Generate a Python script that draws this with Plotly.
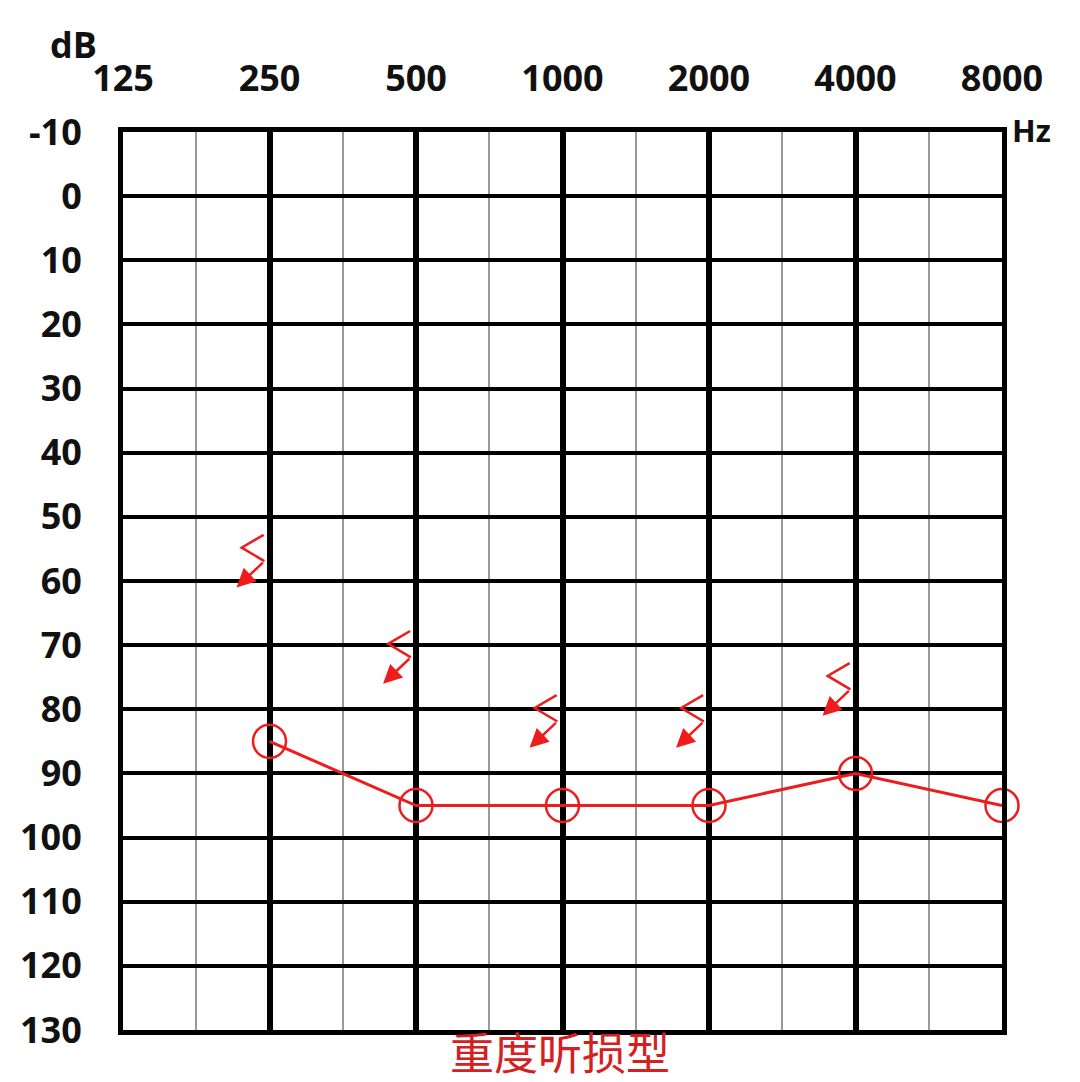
import plotly.graph_objects as go

# audiogram data
freq_labels = ["125", "250", "500", "1000", "2000", "4000", "8000"]
db_ticks = [-10, 0, 10, 20, 30, 40, 50, 60, 70, 80, 90, 100, 110, 120, 130]
air_freqs = ["250", "500", "1000", "2000", "4000", "8000"]
air_db = [85, 95, 95, 95, 90, 95]
bone_freqs = ["250", "500", "1000", "2000", "4000"]
bone_db = [55, 70, 80, 80, 75]

RED = "#ee1c1c"
FONT = "Open Sans"


def octave(f):
    # position on the axis: octaves above 125 Hz
    return freq_labels.index(f)


fig = go.Figure()

# air conduction line with open circles
fig.add_trace(go.Scatter(
    x=[octave(f) for f in air_freqs], y=air_db,
    mode="lines+markers",
    line=dict(color=RED, width=3),
    marker=dict(symbol="circle-open", size=33, color=RED, line=dict(width=2.5, color=RED)),
    cliponaxis=False, hoverinfo="skip",
))

# bone conduction "no response" squiggles: zigzag + arrow
zig_dx = [-0.04, -0.19, -0.035]
zig_dy = [-2.2, -0.2, 1.9]
xs, ys = [], []
for f, db in zip(bone_freqs, bone_db):
    x0 = octave(f)
    xs += [x0 + d for d in zig_dx] + [None]
    ys += [db + d for d in zig_dy] + [None]
    fig.add_annotation(
        x=x0 - 0.225, y=db + 6.0, ax=x0 + zig_dx[-1], ay=db + zig_dy[-1],
        xref="x", yref="y", axref="x", ayref="y",
        showarrow=True, arrowhead=2, arrowsize=1.5, arrowwidth=2.5,
        arrowcolor=RED, text="",
    )
fig.add_trace(go.Scatter(x=xs, y=ys, mode="lines", line=dict(color=RED, width=2.5),
                         hoverinfo="skip"))

fig.update_xaxes(
    range=[0, 6], side="top",
    tickmode="array", tickvals=list(range(7)), ticktext=freq_labels,
    tickfont=dict(family=FONT, size=36, color="#111", weight="bold"),
    ticks="", ticklabelstandoff=22,
    showgrid=True, gridcolor="black", gridwidth=5.5,
    minor=dict(dtick=0.5, tick0=0, showgrid=True, gridcolor="#999999", gridwidth=2),
    showline=True, linecolor="black", linewidth=5, mirror=True,
    zeroline=False, fixedrange=True,
)
fig.update_yaxes(
    range=[130, -10],
    tickmode="array", tickvals=db_ticks, ticktext=[str(v) for v in db_ticks],
    tickfont=dict(family=FONT, size=36, color="#111", weight="bold"),
    ticks="", ticklabelstandoff=29,
    showgrid=True, gridcolor="black", gridwidth=4,
    showline=True, linecolor="black", linewidth=5, mirror=True,
    zeroline=False, fixedrange=True,
)

fig.add_annotation(text="dB", xref="paper", yref="paper", x=-0.056, y=1.097,
                   xanchor="center", yanchor="middle",
                   showarrow=False, font=dict(family=FONT, size=36, color="#111", weight="bold"))
fig.add_annotation(text="Hz", xref="paper", yref="paper", x=1.033, y=1.002,
                   xanchor="center", yanchor="middle",
                   showarrow=False, font=dict(family=FONT, size=31, color="#111", weight="bold"))
fig.add_annotation(text="重度听损型", xref="paper", yref="paper", x=0.497, y=-0.023,
                   xanchor="center", yanchor="middle", showarrow=False,
                   font=dict(family="Noto Sans CJK SC", size=44, color="#d42020"))

fig.update_layout(
    width=1080, height=1082,
    margin=dict(l=113, r=86, t=124, b=60),
    paper_bgcolor="white", plot_bgcolor="white",
    showlegend=False,
)

fig.write_html("out.html")
